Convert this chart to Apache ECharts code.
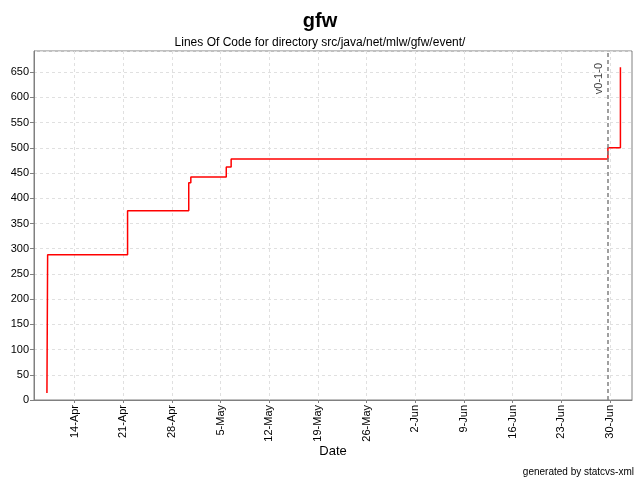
<!DOCTYPE html>
<html>
<head>
<meta charset="utf-8">
<script src="https://cdn.jsdelivr.net/npm/echarts@6/dist/echarts.min.js"></script>
<style>html,body{margin:0;padding:0;background:#fff;}#c{width:640px;height:480px;}</style>
</head>
<body>
<div id="c"></div>
<script>
const commitDates = ["2003-04-10T00:00","2003-04-10T02:24","2003-04-21T14:24","2003-04-30T09:36","2003-04-30T16:48","2003-05-05T19:12","2003-05-06T12:00","2003-06-29T16:48","2003-07-01T12:00"];
const locValues = [14, 288, 375, 431, 442, 462, 478, 500, 660];
const tickDates = ["2003-04-14","2003-04-21","2003-04-28","2003-05-05","2003-05-12","2003-05-19","2003-05-26","2003-06-02","2003-06-09","2003-06-16","2003-06-23","2003-06-30"];
const releaseDate = "2003-06-29T16:48";
const releaseName = "v0-1-0";
const axisMinDate = "2003-04-08T03:20";
const axisMaxDate = "2003-07-03T04:00";
const months = ["Jan","Feb","Mar","Apr","May","Jun","Jul","Aug","Sep","Oct","Nov","Dec"];

function ts(s){ return Date.parse(s + (s.length > 10 ? ":00Z" : "T00:00:00Z")); }
const tickVals = tickDates.map(ts);
const seriesData = commitDates.map((d,i)=>[ts(d), locValues[i]]);

const chart = echarts.init(document.getElementById('c'));
const font = 'Liberation Sans, Arial, sans-serif';
chart.setOption({
  animation: false,
  backgroundColor: '#fff',
  textStyle: { fontFamily: font },
  title: [
    { text: 'gfw', left: 'center', top: 6, textStyle: { fontSize: 20, fontWeight: 'bold', color: '#000', fontFamily: font } },
    { text: 'Lines Of Code for directory src/java/net/mlw/gfw/event/', left: 'center', top: 32, textStyle: { fontSize: 12, fontWeight: 'normal', color: '#000', fontFamily: font } },
    { text: 'generated by statcvs-xml', right: 6, bottom: 3, padding: 0, textStyle: { fontSize: 10, fontWeight: 'normal', color: '#000', fontFamily: font } }
  ],
  grid: { left: 34, right: 8, top: 51, bottom: 80, show: true, borderColor: '#808080', borderWidth: 1, containLabel: false },
  xAxis: {
    type: 'value',
    min: ts(axisMinDate),
    max: ts(axisMaxDate),
    name: 'Date',
    nameLocation: 'middle',
    nameGap: 45,
    nameMoveOverlap: false,
    nameTextStyle: { fontSize: 13, color: '#000', fontFamily: font },
    axisLine: { lineStyle: { color: '#808080' } },
    axisTick: { show: true, length: 3, lineStyle: { color: '#808080' }, customValues: tickVals },
    axisLabel: {
      customValues: tickVals,
      rotate: 90,
      fontSize: 11,
      color: '#000',
      margin: 5,
      formatter: function(v){ const d = new Date(v); return d.getUTCDate() + '-' + months[d.getUTCMonth()]; }
    },
    splitLine: { show: true, lineStyle: { color: '#e0e0e0', type: [3,3] } }
  },
  yAxis: {
    type: 'value',
    min: 0,
    max: 692,
    interval: 50,
    axisLine: { show: true, lineStyle: { color: '#808080' } },
    axisTick: { show: true, length: 4, lineStyle: { color: '#808080' } },
    axisLabel: { fontSize: 11, color: '#000', margin: 5, showMaxLabel: false },
    splitLine: { show: true, lineStyle: { color: '#e0e0e0', type: [3,3] } }
  },
  series: [{
    type: 'line',
    step: 'end',
    showSymbol: false,
    data: seriesData,
    lineStyle: { color: '#ff0000', width: 1.5 },
    itemStyle: { color: '#ff0000' },
    markLine: {
      silent: true,
      symbol: ['none','none'],
      lineStyle: { color: '#808080', type: [4,3], width: 1.5 },
      label: { show: true, position: 'insideEndTop', formatter: releaseName, color: '#444', fontSize: 11, distance: [12, 3] },
      data: [{ xAxis: ts(releaseDate) }]
    }
  }]
});
</script>
</body>
</html>
